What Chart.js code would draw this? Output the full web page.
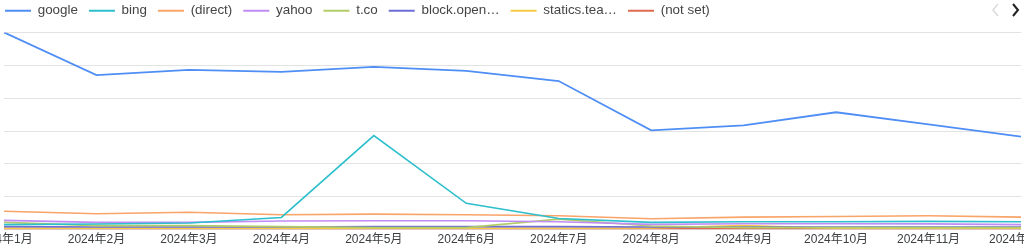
<!DOCTYPE html>
<html>
<head>
<meta charset="utf-8">
<script src="https://cdn.jsdelivr.net/npm/chart.js@4.4.1/dist/chart.umd.min.js"></script>
<style>
  html, body { margin: 0; padding: 0; background: #fff; overflow: hidden; }
  #wrap { position: absolute; left: -10px; top: -7px; width: 1034px; height: 264px; }
</style>
</head>
<body>
<div id="wrap"><canvas id="chart"></canvas></div>
<script>
const months = ["2024年1月", "2024年2月", "2024年3月", "2024年4月", "2024年5月", "2024年6月",
  "2024年7月", "2024年8月", "2024年9月", "2024年10月", "2024年11月", "2024年12月"];

const google = [60, 47, 48.6, 48, 49.5, 48.3, 45.2, 30.2, 31.7, 35.7, 32, 28.3];
const bing = [1.5, 1.7, 2.0, 3.7, 28.6, 8.0, 3.4, 2.2, 2.4, 2.4, 2.5, 2.4];
const direct = [5.6, 4.8, 5.3, 4.5, 4.7, 4.5, 4.2, 3.3, 3.8, 4.0, 4.2, 3.8];
const yahoo = [2.8, 2.2, 2.2, 2.6, 2.7, 2.7, 2.4, 1.6, 1.8, 1.8, 1.75, 1.5];
const tco = [2.2, 1.2, 1.2, 0.9, 0.6, 0.6, 3.2, 1.1, 0.6, 0.6, 0.6, 0.6];
const blockOpen = [0.9, 0.8, 0.8, 0.8, 0.9, 0.9, 0.9, 0.8, 0.8, 0.8, 0.8, 0.8];
const statics = [0.4, 0.4, 0.4, 0.4, 0.4, 0.4, 0.4, 0.5, 1.2, 0.4, 0.4, 0.4];
const notSet = [0.3, 0.3, 0.3, 0.3, 0.3, 0.3, 0.3, 0.3, 0.3, 0.3, 0.3, 0.3];

const names = ["google", "bing", "(direct)", "yahoo", "t.co", "block.open…", "statics.tea…", "(not set)"];
const colors = ["#4f8ef5", "#2dbfcc", "#f9a468", "#c28cf5", "#b3cc6a", "#6c6ed6", "#f8c945", "#e06a50"];
const series = [google, bing, direct, yahoo, tco, blockOpen, statics, notSet];

const font = "'Liberation Sans', Arial, 'Noto Sans CJK SC', sans-serif";

// little paging arrows right of the legend
const legendArrows = {
  id: "legendArrows",
  beforeLayout(chart) {
    // leave a bit more room between legend and plot
    const lg = chart.legend;
    if (lg && !lg._patched) {
      const fit = lg.fit.bind(lg);
      lg.fit = function () { fit(); this.height += 5; };
      lg._patched = true;
    }
  },
  afterDraw(chart) {
    const ctx = chart.ctx;
    const y = 17;
    ctx.save();
    ctx.lineWidth = 1.3;
    ctx.strokeStyle = "#d8d8d8";
    ctx.beginPath();
    ctx.moveTo(1008, y - 6);
    ctx.lineTo(1003, y);
    ctx.lineTo(1008, y + 6);
    ctx.stroke();
    ctx.lineWidth = 2;
    ctx.strokeStyle = "#202124";
    ctx.beginPath();
    ctx.moveTo(1023, y - 6);
    ctx.lineTo(1028, y);
    ctx.lineTo(1023, y + 6);
    ctx.stroke();
    ctx.restore();
  }
};

new Chart(document.getElementById("chart"), {
  type: "line",
  data: {
    labels: months,
    datasets: series.map((d, i) => ({
      label: names[i],
      data: d,
      borderColor: colors[i],
      backgroundColor: colors[i],
      borderWidth: i === 0 ? 1.8 : 1.6,
      pointRadius: 0,
      tension: 0,
      order: i
    }))
  },
  options: {
    responsive: true,
    maintainAspectRatio: false,
    animation: false,
    layout: { padding: { left: 4, right: 3, top: 0, bottom: 7 } },
    plugins: {
      tooltip: { enabled: false },
      legend: {
        position: "top",
        align: "start",
        labels: {
          boxWidth: 26,
          boxHeight: 2,
          padding: 11,
          color: "#444",
          font: { family: font, size: 13.4 },
          generateLabels(chart) {
            const items = Chart.defaults.plugins.legend.labels.generateLabels(chart);
            items.forEach(it => { it.lineWidth = 0; });
            return items;
          }
        }
      }
    },
    scales: {
      x: {
        grid: { display: false, drawTicks: false },
        border: { display: false },
        ticks: {
          color: "#3c4043",
          font: { family: font, size: 12 },
          maxRotation: 0,
          autoSkip: false,
          padding: 3
        },
        afterFit(scale) {
          scale.paddingLeft = 0;
          scale.paddingRight = 0;
        }
      },
      y: {
        min: 0,
        max: 60,
        ticks: { display: false, stepSize: 10 },
        grid: { color: "#e3e3e3", lineWidth: 1, drawTicks: false },
        border: { display: false },
        afterFit(scale) { scale.width = 10; }
      }
    }
  },
  plugins: [legendArrows]
});
</script>
</body>
</html>
